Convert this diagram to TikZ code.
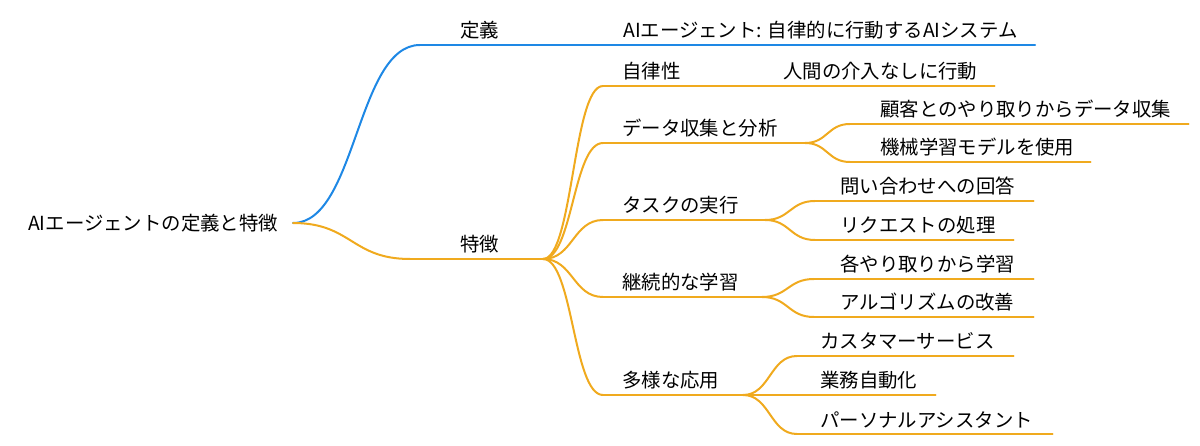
\documentclass[tikz,border=0pt]{standalone}
\usepackage{fontspec}
\setmainfont{Noto Sans CJK JP}
\usetikzlibrary{calc}
\definecolor{defblue}{RGB}{30,136,229}
\definecolor{featorange}{RGB}{240,170,30}
% smooth link between two points, flat at both ends
\newcommand\branch[3]{\draw[#1] let \p1=(#2), \p2=(#3) in (#2) .. controls ({(\x1+\x2)/2},\y1) and ({(\x1+\x2)/2},\y2) .. (#3);}
\begin{document}
\begin{tikzpicture}[x=1pt, y=-1pt, line cap=round, line join=round,
	font=\fontsize{19.4}{22}\selectfont,
	lbl/.style={anchor=base west, inner sep=0pt},
	blueline/.style={defblue, line width=2pt},
	orangeline/.style={featorange, line width=2pt}]
	\useasboundingbox (0,0) rectangle (1200,446);
	\foreach \n/\x/\y in {R/293/223, D0/420/45, D1/1035/45, F0/410/259, F1/543/259,
		A0/603/86, A1/994/86, B0/603/143, B1/805/143, B20/850/124, B21/1188/124, B30/850/162, B31/1090/162,
		C0/603/220, C1/765/220, C20/815/201, C21/1033/201, C30/815/240, C31/1013/240,
		E0/603/297, E1/762/297, E20/814/279, E21/1033/279, E30/814/317, E31/1033/317,
		G0/603/395, G1/743/395, G20/797/356, G21/1013/356, G30/935/395, G40/797/434, G41/1052/434}
	\coordinate (\n) at (\x,\y);
	% lines
	\branch{blueline}{R}{D0}
	\draw[blueline] (D0)--(D1);
	\branch{orangeline}{R}{F0}
	\foreach \a/\b in {F1/A0, F1/B0, F1/C0, F1/E0, F1/G0, B1/B20, B1/B30, C1/C20, C1/C30,
		E1/E20, E1/E30, G1/G20, G1/G40}
	\branch{orangeline}{\a}{\b}
	\foreach \a/\b in {F0/F1, A0/A1, B0/B1, B20/B21, B30/B31, C0/C1, C20/C21, C30/C31,
		E0/E1, E20/E21, E30/E31, G0/G1, G20/G21, G1/G30, G40/G41}
	\draw[orangeline] (\a)--(\b);
	% labels
	\node[lbl] (root) at (28,231) {AIエージェントの定義と特徴};
	\foreach \n/\x/\y/\t in {def/460/45/定義, defai/623/45/AIエージェント: 自律的に行動するAIシステム,
		feat/460/259/特徴, auto/622/86/自律性, autox/783/86/人間の介入なしに行動,
		data/622/143/データ収集と分析, data1/880/124/顧客とのやり取りからデータ収集, data2/880/162/機械学習モデルを使用,
		task/622/220/タスクの実行, task1/840/201/問い合わせへの回答, task2/840/240/リクエストの処理,
		learn/622/297/継続的な学習, learn1/840/279/各やり取りから学習, learn2/840/317/アルゴリズムの改善,
		app/622/395/多様な応用, app1/820/356/カスタマーサービス, app2/820/395/業務自動化, app3/820/434/パーソナルアシスタント}
	\node[lbl] (\n) at (\x,\y-7) {\t};
\end{tikzpicture}
\end{document}
